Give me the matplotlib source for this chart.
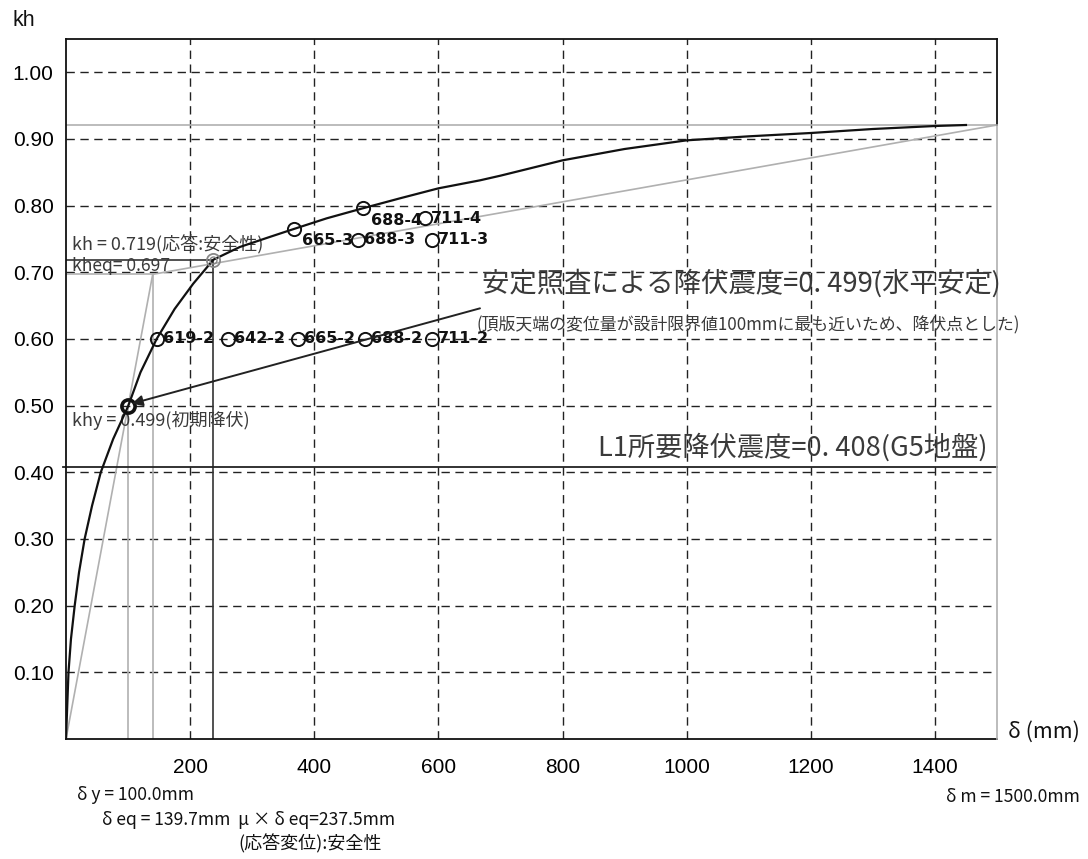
import matplotlib
matplotlib.use("Agg")
import matplotlib.pyplot as plt

JP = ["Noto Sans CJK JP", "DejaVu Sans"]

# Horizontal seismic coefficient vs. displacement (pushover curve)
curve_x = [0, 2, 4, 8, 14, 21, 30, 42, 56, 76, 100, 120, 146, 175, 205, 237.5,
           280, 328, 367, 420, 478, 538, 600, 667, 700, 800, 900, 1000, 1100,
           1200, 1300, 1400, 1450]
curve_y = [0.0, 0.05, 0.10, 0.15, 0.20, 0.25, 0.30, 0.35, 0.40, 0.45, 0.499,
           0.55, 0.60, 0.645, 0.683, 0.719, 0.738, 0.753, 0.765, 0.781, 0.796,
           0.811, 0.826, 0.838, 0.845, 0.868, 0.885, 0.898, 0.904, 0.909,
           0.915, 0.9195, 0.921]

# Key values
delta_y, khy = 100.0, 0.499          # initial yield
delta_eq, kheq = 139.7, 0.697        # equivalent point
delta_resp, kh_resp = 237.5, 0.719   # response point
delta_m, kh_max = 1500.0, 0.921      # ultimate point
kh_l1 = 0.408                        # L1 required yield coefficient

# Labelled check points
point_labels = ["619-2", "642-2", "665-2", "688-2", "711-2",
                "665-3", "688-3", "711-3", "688-4", "711-4"]
point_x = [146, 261, 374, 482, 589, 367, 470, 589, 478, 578]
point_y = [0.600, 0.600, 0.600, 0.600, 0.600, 0.765, 0.749, 0.749, 0.796, 0.781]

x_ticks = [200, 400, 600, 800, 1000, 1200, 1400]
y_ticks = [0.10, 0.20, 0.30, 0.40, 0.50, 0.60, 0.70, 0.80, 0.90, 1.00]

fig = plt.figure(figsize=(10.88, 8.59), dpi=100)
ax = fig.add_axes([66 / 1088, 1 - 739 / 859, 931 / 1088, 700 / 859])
ax.set_xlim(0, 1500)
ax.set_ylim(0, 1.05)

# Grid
for xv in x_ticks:
    ax.axvline(xv, color="#222222", lw=1.0, ls=(0, (6, 4)), zorder=1)
for yv in y_ticks:
    ax.axhline(yv, color="#222222", lw=1.0, ls=(0, (6, 4)), zorder=1)

ax.set_xticks(x_ticks)
ax.set_xticklabels([f"{v}" for v in x_ticks])
ax.set_yticks(y_ticks)
ax.set_yticklabels([f"{v:.2f}" for v in y_ticks])
ax.tick_params(axis="both", length=0, labelsize=15)
ax.tick_params(axis="x", pad=14)
ax.tick_params(axis="y", pad=9)
for lab in ax.get_xticklabels() + ax.get_yticklabels():
    lab.set_fontfamily("Liberation Sans")

for s in ("left", "bottom", "top"):
    ax.spines[s].set_color("#111111")
    ax.spines[s].set_linewidth(1.3)
ax.spines["right"].set_visible(False)
ax.plot([delta_m, delta_m], [kh_max, 1.05], color="#111111", lw=1.3, zorder=3, clip_on=False)
ax.plot([delta_m, delta_m], [0, kh_max], color="#b0b0b0", lw=1.2, zorder=3, clip_on=False)

grey = "#b0b0b0"
# Secant (bilinear) lines
ax.plot([0, delta_eq, delta_m], [0, kheq, kh_max], color=grey, lw=1.2, zorder=2)
ax.plot([0, delta_m], [kh_max, kh_max], color=grey, lw=1.2, zorder=2)
ax.plot([0, delta_eq], [kheq, kheq], color=grey, lw=1.2, zorder=2)
ax.plot([delta_eq, delta_eq], [0, kheq], color=grey, lw=1.2, zorder=2)
ax.plot([delta_y, delta_y], [0, khy], color=grey, lw=1.2, zorder=2)

# Response point guide lines
ax.plot([0, delta_resp], [kh_resp, kh_resp], color="#333333", lw=1.2, zorder=2)
ax.plot([delta_resp, delta_resp], [0, kh_resp], color="#333333", lw=1.2, zorder=2)

# L1 required level
ax.plot([-5, delta_m], [kh_l1, kh_l1], color="#222222", lw=1.3, zorder=2, clip_on=False)

# Capacity curve
ax.plot(curve_x, curve_y, color="#111111", lw=1.6, zorder=4)

# Markers
ax.plot(delta_y, khy, "o", ms=9.5, mfc="none", mec="#111111", mew=2.6, zorder=5)
ax.plot(delta_resp, kh_resp, "o", ms=9.5, mfc="none", mec="#888888", mew=1.3, zorder=5)
ax.plot(delta_resp, kh_resp, "o", ms=5, mfc="none", mec="#888888", mew=1.0, zorder=5)

ax.plot(point_x, point_y, "o", ms=9.5, mfc="none", mec="#111111", mew=1.4, zorder=5)
shifted = {"665-3", "688-4"}
for lab, px, py in zip(point_labels, point_x, point_y):
    dx, dy = (8, -12) if lab in shifted else (6, 0)
    ax.annotate(lab, (px, py), xytext=(dx, dy), textcoords="offset pixels",
                ha="left", va="center", fontsize=11.5, fontweight="bold",
                color="#111111", family="DejaVu Sans", zorder=6)

# Arrow from the stability-check note to the yield point
ax.annotate("", xy=(106, 0.503), xytext=(667, 0.646),
            arrowprops=dict(arrowstyle="-|>", color="#222222", lw=1.4,
                            mutation_scale=16, shrinkA=0, shrinkB=0), zorder=6)

# Annotations in the plot
txt_c = "#3a3a3a"
ax.text(670, 0.684, "安定照査による降伏震度=0. 499(水平安定)", fontsize=19.7,
        color=txt_c, family=JP, va="center", ha="left")
ax.text(662, 0.621, "(頂版天端の変位量が設計限界値100mmに最も近いため、降伏点とした)",
        fontsize=12.2, color=txt_c, family=JP, va="center", ha="left")
ax.text(857, 0.438, "L1所要降伏震度=0. 408(G5地盤)", fontsize=19.6,
        color=txt_c, family=JP, va="center", ha="left")

ax.text(10, 0.741, "kh = 0.719(応答:安全性)", fontsize=13, color=txt_c,
        family=JP, va="center", ha="left")
ax.text(10, 0.709, "kheq= 0.697", fontsize=12.6, color=txt_c,
        family=JP, va="center", ha="left")
ax.text(10, 0.478, "khy = 0.499(初期降伏)", fontsize=13, color=txt_c,
        family=JP, va="center", ha="left")

# Axis titles and bottom notes
fig.text(12 / 1088, 1 - 21 / 859, "kh", fontsize=15.5, family="Liberation Sans",
         va="center", ha="left", color="#111111")
fig.text(1008 / 1088, 1 - 732 / 859, "δ (mm)", fontsize=15.5, family=JP,
         va="center", ha="left", color="#111111")
fig.text(77 / 1088, 1 - 795 / 859, "δ y = 100.0mm", fontsize=12.6, family=JP,
         va="center", ha="left", color="#111111")
fig.text(102 / 1088, 1 - 820 / 859, "δ eq = 139.7mm  μ × δ eq=237.5mm", fontsize=12.6,
         family=JP, va="center", ha="left", color="#111111")
fig.text(238 / 1088, 1 - 844 / 859, "(応答変位):安全性", fontsize=13, family=JP,
         va="center", ha="left", color="#111111")
fig.text(1080 / 1088, 1 - 797 / 859, "δ m = 1500.0mm", fontsize=12.6, family=JP,
         va="center", ha="right", color="#111111")

fig.savefig("out.png", dpi=100, facecolor="white")
